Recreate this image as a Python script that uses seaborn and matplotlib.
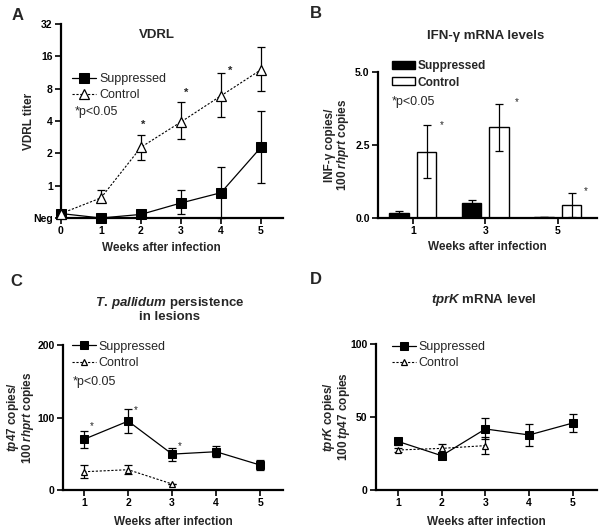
import numpy as np
import pandas as pd
import matplotlib
matplotlib.use("Agg")
import matplotlib.pyplot as plt
import seaborn as sns

# A: VDRL titer (Neg plotted at 0.5 on the log2 axis)
weeks_a = [0, 1, 2, 3, 4, 5]
vdrl_supp = [0.55, 0.5, 0.54, 0.69, 0.86, 2.28]
vdrl_supp_lo = [0.55, 0.5, 0.54, 0.54, 0.5, 1.06]
vdrl_supp_hi = [0.55, 0.5, 0.54, 0.92, 1.5, 4.96]
vdrl_ctrl = [0.55, 0.77, 2.28, 3.92, 6.87, 12.0]
vdrl_ctrl_lo = [0.55, 0.71, 1.75, 2.71, 4.38, 7.67]
vdrl_ctrl_hi = [0.55, 0.92, 2.95, 6.0, 11.3, 19.4]
vdrl_stars = [(2.05, 3.7), (3.12, 7.3), (4.22, 11.8)]

# B: IFN-gamma mRNA
ifn_weeks = ["1", "3", "5"]
ifn_supp = [0.18, 0.50, 0.04]
ifn_supp_err = [0.07, 0.12, 0.01]
ifn_ctrl = [2.27, 3.10, 0.45]
ifn_ctrl_err = [0.90, 0.79, 0.40]
ifn_stars = [(0.40, 3.18), (1.43, 3.97), (2.39, 0.92)]

# C: tp47 persistence
weeks_c = [1, 2, 3, 4, 5]
tp47_supp = [70, 95, 49.5, 52.8, 34.4]
tp47_supp_err = [11.5, 17, 9, 7.3, 6.5]
weeks_c_ctrl = [1, 2, 3]
tp47_ctrl = [25.2, 28, 8.3]
tp47_ctrl_err = [8.7, 6.2, 0]
tp47_stars = [(1.18, 88), (2.18, 110), (3.18, 61)]

# D: tprK mRNA
tprk_supp = [33.3, 23.5, 41.8, 37.7, 45.9]
tprk_supp_err = [2.6, 2.3, 7.2, 7.3, 6.0]
tprk_ctrl = [27.4, 28.5, 30.4]
tprk_ctrl_err = [1.5, 2.8, 6.0]

sns.set_style("ticks")
plt.rcParams["font.family"] = ["Liberation Sans", "DejaVu Sans"]
plt.rcParams["font.weight"] = "bold"
plt.rcParams["axes.labelweight"] = "bold"
plt.rcParams["mathtext.fontset"] = "custom"
plt.rcParams["mathtext.rm"] = "Liberation Sans:bold"
plt.rcParams["mathtext.bf"] = "Liberation Sans:bold"
plt.rcParams["mathtext.it"] = "Liberation Sans:italic:bold"

fig = plt.figure(figsize=(6, 5.29), dpi=100)
W, H = 600, 529


def px_axes(left, top, right, bottom):
    return fig.add_axes([left / W, 1 - bottom / H, (right - left) / W, (bottom - top) / H])


def style_axes(ax):
    sns.despine(ax=ax)
    for s in ["left", "bottom"]:
        ax.spines[s].set_linewidth(1.6)
        ax.spines[s].set_color("black")
    ax.tick_params(axis="both", labelsize=7.5, width=1.2, length=4, pad=2, colors="black")
    ax.set_xlabel("Weeks after infection", fontsize=8.5)


def line_pair(ax, x1, y1, e1, x2, y2, e2, ms_sq, ms_tri):
    ax.errorbar(x1, y1, yerr=e1, fmt="none", ecolor="black", elinewidth=0.9,
                capsize=3, capthick=0.9, zorder=1, clip_on=False)
    ax.errorbar(x2, y2, yerr=e2, fmt="none", ecolor="black", elinewidth=0.9,
                capsize=3, capthick=0.9, zorder=1, clip_on=False)
    sns.lineplot(x=x1, y=y1, ax=ax, color="black", marker="s", markersize=ms_sq,
                 markeredgecolor="black", linewidth=0.9, label="Suppressed",
                 clip_on=False, zorder=3)
    sns.lineplot(x=x2, y=y2, ax=ax, color="black", marker="^", markersize=ms_tri,
                 markerfacecolor="white", markeredgecolor="black", markeredgewidth=0.9,
                 linewidth=0.8, linestyle=(0, (2, 1.5)), label="Control",
                 clip_on=False, zorder=3)


def line_legend(ax, x, y, spacing=0.3):
    ax.legend(loc="upper left", bbox_to_anchor=(x, y), frameon=False,
              prop={"weight": "normal", "size": 9}, handlelength=1.9, handletextpad=0.25,
              borderpad=0, borderaxespad=0, labelspacing=spacing)


# ---------- A ----------
axA = px_axes(61, 24, 283, 218)
sa = np.array(vdrl_supp); ca = np.array(vdrl_ctrl)
errA_s = [sa - np.array(vdrl_supp_lo), np.array(vdrl_supp_hi) - sa]
errA_c = [ca - np.array(vdrl_ctrl_lo), np.array(vdrl_ctrl_hi) - ca]
line_pair(axA, weeks_a, vdrl_supp, errA_s, weeks_a, vdrl_ctrl, errA_c, 7, 6.5)
axA.set_yscale("log", base=2)
axA.set_ylim(0.5, 32)
axA.set_xlim(0, 5.55)
axA.set_yticks([0.5, 1, 2, 4, 8, 16, 32])
axA.set_yticklabels(["Neg", "1", "2", "4", "8", "16", "32"])
axA.yaxis.set_minor_locator(matplotlib.ticker.NullLocator())
axA.set_xticks(weeks_a)
style_axes(axA)
axA.set_ylabel("VDRL titer", fontsize=8.5)
axA.yaxis.set_label_coords(-0.118, 0.5)
axA.xaxis.set_label_coords(0.45, -0.125)
axA.text(0.43, 0.943, "VDRL", transform=axA.transAxes, ha="center", va="center", fontsize=9.5)
line_legend(axA, 0.05, 0.745)
axA.text(0.063, 0.546, "*p<0.05", transform=axA.transAxes, ha="left", va="center",
         fontsize=9, fontweight="normal")
for sx, sy in vdrl_stars:
    axA.text(sx, sy, "*", ha="center", va="center", fontsize=8)

# ---------- B ----------
axB = px_axes(378, 72, 597, 218)
df_ifn = pd.DataFrame({
    "week": ifn_weeks * 2,
    "value": ifn_supp + ifn_ctrl,
    "group": ["Suppressed"] * 3 + ["Control"] * 3,
})
sns.barplot(data=df_ifn, x="week", y="value", hue="group", ax=axB,
            palette={"Suppressed": "black", "Control": "white"},
            edgecolor="black", linewidth=1, width=0.76, gap=0.3, errorbar=None)
for cont, vals, errs in zip(axB.containers, [ifn_supp, ifn_ctrl], [ifn_supp_err, ifn_ctrl_err]):
    xs = [b.get_x() + b.get_width() / 2 for b in cont]
    axB.errorbar(xs, vals, yerr=errs, fmt="none", ecolor="black", elinewidth=0.9,
                 capsize=3, capthick=0.9, zorder=3)
axB.set_ylim(0, 5)
axB.set_xlim(-0.48, 2.54)
axB.set_yticks([0, 2.5, 5])
axB.set_yticklabels(["0.0", "2.5", "5.0"])
style_axes(axB)
axB.set_ylabel("INF-γ copies/\n100 $\\mathit{rhprt}$ copies", fontsize=8.5, linespacing=0.9)
axB.yaxis.set_label_coords(-0.125, 0.5)
axB.xaxis.set_label_coords(0.5, -0.16)
axB.text(0.49, 1.247, "IFN-γ mRNA levels", transform=axB.transAxes, ha="center",
         va="center", fontsize=9.5)
axB.legend(loc="upper left", bbox_to_anchor=(0.064, 1.08), frameon=False,
           prop={"weight": "bold", "size": 8.6}, handlelength=1.9, handleheight=0.6,
           handletextpad=0.25, borderpad=0, borderaxespad=0, labelspacing=0.35)
axB.text(0.064, 0.795, "*p<0.05", transform=axB.transAxes, ha="left", va="center",
         fontsize=9, fontweight="normal")
for sx, sy in ifn_stars:
    axB.text(sx, sy, "*", ha="center", va="center", fontsize=7, fontweight="normal")

# ---------- C ----------
axC = px_axes(63, 345, 283, 490)
line_pair(axC, weeks_c, tp47_supp, tp47_supp_err, weeks_c_ctrl, tp47_ctrl, tp47_ctrl_err, 5.5, 5)
axC.set_ylim(0, 200)
axC.set_xlim(0.52, 5.52)
axC.set_yticks([0, 100, 200])
axC.set_xticks(weeks_c)
style_axes(axC)
axC.set_ylabel("$\\mathit{tp47}$ copies/\n100 $\\mathit{rhprt}$ copies", fontsize=8.5, linespacing=0.9)
axC.yaxis.set_label_coords(-0.125, 0.5)
axC.xaxis.set_label_coords(0.5, -0.18)
axC.text(0.486, 1.248, "$\\mathit{T.\\,pallidum}$ persistence\nin lesions", transform=axC.transAxes,
         ha="center", va="center", fontsize=9.5, linespacing=1.0)
line_legend(axC, 0.04, 1.03, 0.35)
axC.text(0.045, 0.745, "*p<0.05", transform=axC.transAxes, ha="left", va="center",
         fontsize=9, fontweight="normal")
for sx, sy in tp47_stars:
    axC.text(sx, sy, "*", ha="center", va="center", fontsize=7, fontweight="normal")

# ---------- D ----------
axD = px_axes(376, 344, 597, 490)
line_pair(axD, weeks_c, tprk_supp, tprk_supp_err, weeks_c_ctrl, tprk_ctrl, tprk_ctrl_err, 5.5, 5)
axD.set_ylim(0, 100)
axD.set_xlim(0.5, 5.55)
axD.set_yticks([0, 50, 100])
axD.set_xticks(weeks_c)
style_axes(axD)
axD.set_ylabel("$\\mathit{tprK}$ copies/\n100 $\\mathit{tp47}$ copies", fontsize=8.5, linespacing=0.9)
axD.yaxis.set_label_coords(-0.11, 0.5)
axD.xaxis.set_label_coords(0.5, -0.175)
axD.text(0.49, 1.30, "$\\mathit{tprK}$ mRNA level", transform=axD.transAxes,
         ha="center", va="center", fontsize=9.5)
line_legend(axD, 0.072, 1.02, 0.35)

# panel letters
for lbl, x, y in [("A", 12, 15), ("B", 310, 14), ("C", 10, 281), ("D", 310, 280)]:
    fig.text(x / W, 1 - y / H, lbl, fontsize=12, fontweight="bold", ha="left", va="center")

fig.savefig("out.png", dpi=100)
